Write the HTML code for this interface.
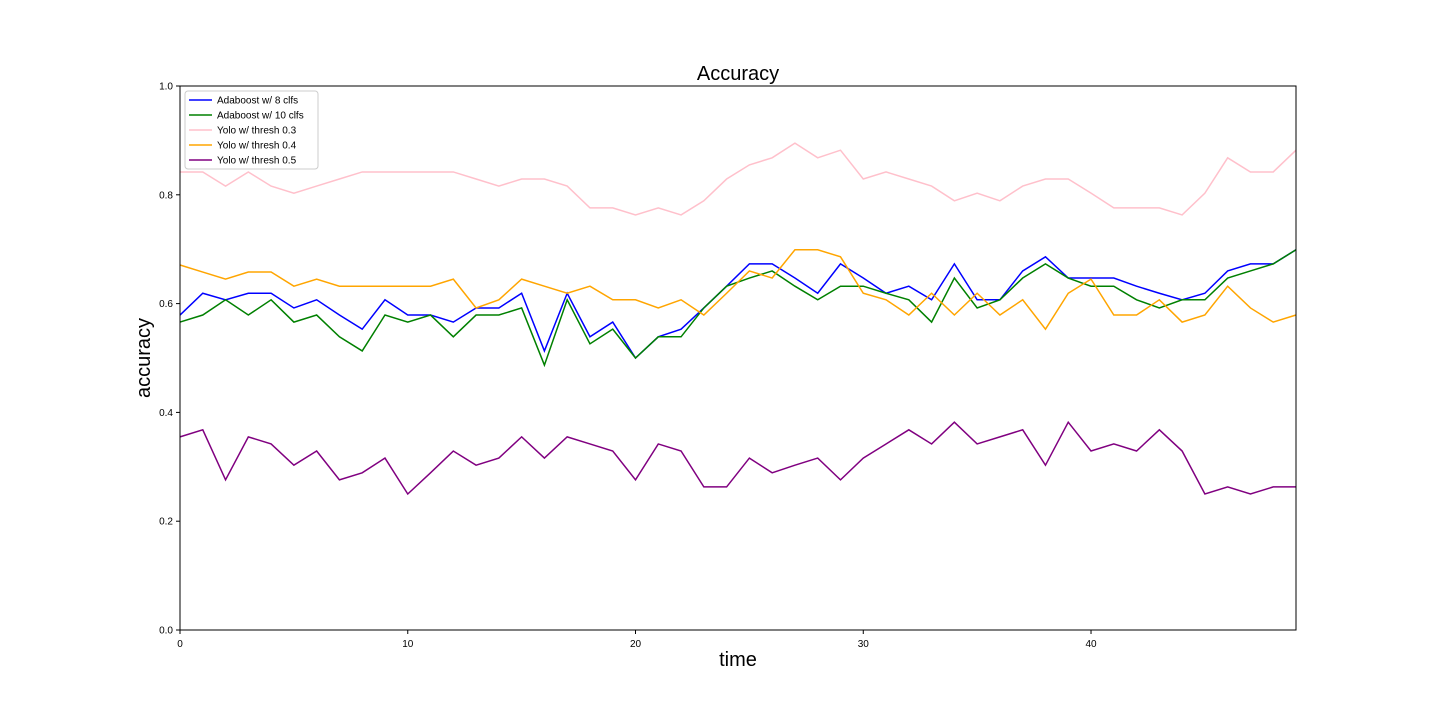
<!DOCTYPE html>
<html><head><meta charset="utf-8"><style>
body{margin:0;background:#fff;}
svg{display:block;font-family:"Liberation Sans","DejaVu Sans",sans-serif;}
</style></head><body>
<svg id="chart" width="1440" height="720"></svg>
<script>
const categories = Array.from({length:50},(_,i)=>i);
const blueVals=[0.579,0.619,0.607,0.619,0.619,0.592,0.607,0.579,0.553,0.607,0.579,0.579,0.566,0.592,0.592,0.619,0.513,0.619,0.539,0.566,0.5,0.539,0.553,0.592,0.632,0.673,0.673,0.647,0.619,0.673,0.647,0.619,0.632,0.607,0.673,0.607,0.607,0.66,0.686,0.647,0.647,0.647,0.632,0.619,0.607,0.619,0.66,0.673,0.673,0.699];
const greenVals=[0.566,0.579,0.607,0.579,0.607,0.566,0.579,0.539,0.513,0.579,0.566,0.579,0.539,0.579,0.579,0.592,0.487,0.607,0.526,0.553,0.5,0.539,0.539,0.592,0.632,0.647,0.66,0.632,0.607,0.632,0.632,0.619,0.607,0.566,0.647,0.592,0.607,0.647,0.673,0.647,0.632,0.632,0.607,0.592,0.607,0.607,0.647,0.66,0.673,0.699];
const pinkVals=[0.842,0.842,0.816,0.842,0.816,0.803,0.816,0.829,0.842,0.842,0.842,0.842,0.842,0.829,0.816,0.829,0.829,0.816,0.776,0.776,0.763,0.776,0.763,0.789,0.829,0.855,0.868,0.895,0.868,0.882,0.829,0.842,0.829,0.816,0.789,0.803,0.789,0.816,0.829,0.829,0.803,0.776,0.776,0.776,0.763,0.803,0.868,0.842,0.842,0.882];
const orangeVals=[0.671,0.658,0.645,0.658,0.658,0.632,0.645,0.632,0.632,0.632,0.632,0.632,0.645,0.592,0.607,0.645,0.632,0.619,0.632,0.607,0.607,0.592,0.607,0.579,0.619,0.66,0.647,0.699,0.699,0.686,0.619,0.607,0.579,0.619,0.579,0.619,0.579,0.607,0.553,0.619,0.645,0.579,0.579,0.607,0.566,0.579,0.632,0.592,0.566,0.579];
const purpleVals=[0.355,0.368,0.276,0.355,0.342,0.303,0.329,0.276,0.289,0.316,0.25,0.289,0.329,0.303,0.316,0.355,0.316,0.355,0.342,0.329,0.276,0.342,0.329,0.263,0.263,0.316,0.289,0.303,0.316,0.276,0.316,0.342,0.368,0.342,0.382,0.342,0.355,0.368,0.303,0.382,0.329,0.342,0.329,0.368,0.329,0.25,0.263,0.25,0.263,0.263];
const seriesNames=["Adaboost w/ 8 clfs","Adaboost w/ 10 clfs","Yolo w/ thresh 0.3","Yolo w/ thresh 0.4","Yolo w/ thresh 0.5"];
const xTicks=[0,10,20,30,40];
const yTicks=[0.0,0.2,0.4,0.6,0.8,1.0];

const NS="http://www.w3.org/2000/svg";
const svg=document.getElementById('chart');
const L=180,R=1296,T=86,B=630;
const xs=v=>L+(v-0)/49*(R-L);
const ys=v=>B-v*(B-T);
function mk(tag,attrs,parent){const e=document.createElementNS(NS,tag);for(const k in attrs)e.setAttribute(k,attrs[k]);(parent||svg).appendChild(e);return e;}

const title=mk('text',{x:(L+R)/2,y:80,'text-anchor':'middle','font-size':20,fill:'#000'});
title.textContent='Accuracy';



xTicks.forEach(t=>{
  const g=mk('g',{});
  
  
  mk('line',{x1:xs(t),x2:xs(t),y1:B,y2:B+4,stroke:'#000','stroke-width':1},g);
  const tx=mk('text',{x:xs(t),y:B+17,'text-anchor':'middle','font-size':10},g);tx.textContent=t;
});
yTicks.forEach(t=>{
  const g=mk('g',{});
  
  
  mk('line',{x1:L-4,x2:L,y1:ys(t),y2:ys(t),stroke:'#000','stroke-width':1},g);
  const tx=mk('text',{x:L-7,y:ys(t)+3.5,'text-anchor':'end','font-size':10},g);tx.textContent=t.toFixed(1);
});
const xl=mk('text',{x:(L+R)/2,y:666,'text-anchor':'middle','font-size':20});xl.textContent='time';


const yl=mk('text',{x:0,y:0,'text-anchor':'middle','font-size':20,transform:`translate(150,${(T+B)/2}) rotate(-90)`});yl.textContent='accuracy';



const data=[blueVals,greenVals,pinkVals,orangeVals,purpleVals];
const colors=['blue','green','pink','orange','purple'];
const keys=['adaboost-8','adaboost-10','yolo-0-3','yolo-0-4','yolo-0-5'];
data.forEach((vals,si)=>{
  const p=mk('polyline',{points:vals.map((v,i)=>xs(categories[i])+','+ys(v)).join(' '),fill:'none',stroke:colors[si],'stroke-width':1.5});
  
  
});

const frame=mk('rect',{x:L,y:T,width:R-L,height:B-T,fill:'none',stroke:'#000','stroke-width':1});



const lg=mk('g',{});


mk('rect',{x:185,y:91,width:133,height:78,rx:3,fill:'#fff',stroke:'#ccc','stroke-width':1},lg);
seriesNames.forEach((n,i)=>{
  const e=mk('g',{},lg);
  
  
  const y=100+i*15;
  mk('line',{x1:189,x2:212,y1:y,y2:y,stroke:colors[i],'stroke-width':1.5},e);
  const t=mk('text',{x:217,y:y+3.5,'font-size':10},e);t.textContent=n;
});
</script>
</body></html>
